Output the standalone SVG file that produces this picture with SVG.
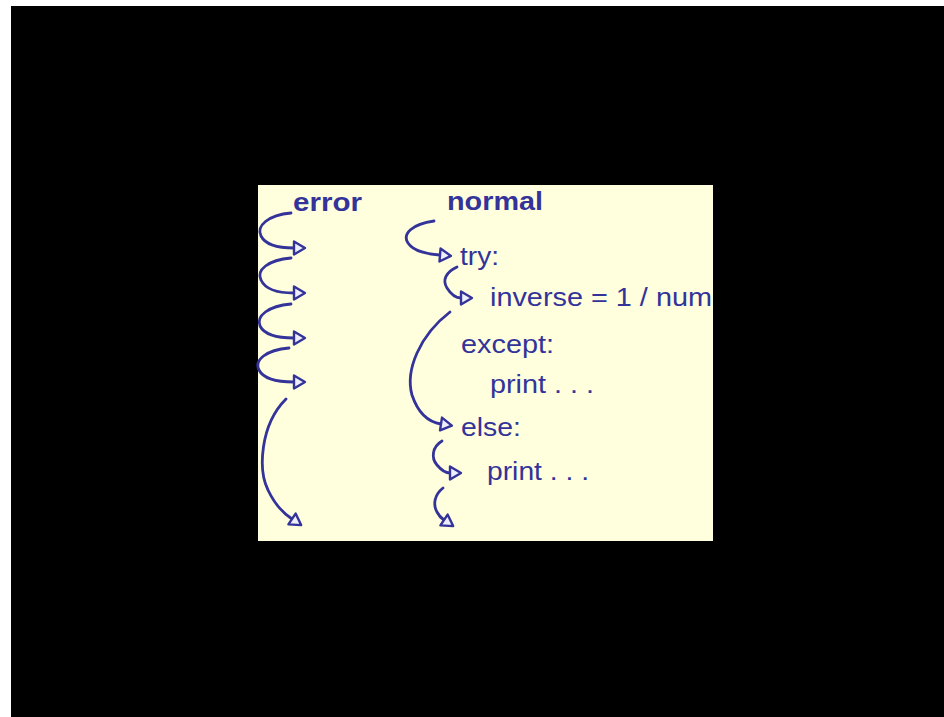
<svg xmlns="http://www.w3.org/2000/svg" width="944" height="717" viewBox="0 0 944 717">
  <style>
    .lbl { font-family: "Liberation Sans", Arial, sans-serif; font-size: 25px; fill: #33339a; }
    .head { font-weight: bold; }
    .flow { fill: none; stroke: #33339a; stroke-width: 2.8; stroke-linecap: round; marker-end: url(#tri); }
  </style>
  <defs>
    <marker id="tri" markerUnits="userSpaceOnUse" viewBox="0 0 15 17" markerWidth="15" markerHeight="17" refX="2" refY="8.5" orient="auto">
      <path d="M2,2 L13,8.5 L2,15 Z" fill="#eeeefc" stroke="#33339a" stroke-width="2.4" stroke-linejoin="round"/>
    </marker>
  </defs>

  <!-- page -->
  <rect x="0" y="0" width="944" height="717" fill="#ffffff"/>
  <rect x="11" y="6" width="933" height="711" fill="#000000"/>
  <rect x="258" y="185" width="455" height="356" fill="#ffffdd"/>

  <!-- column headings -->
  <g id="error-head"><text class="lbl head" x="293" y="211" textLength="69" lengthAdjust="spacingAndGlyphs">error</text></g>
  <g id="normal-head"><text class="lbl head" x="447" y="210" textLength="96" lengthAdjust="spacingAndGlyphs">normal</text></g>

  <!-- code lines -->
  <g id="try"><text class="lbl" x="460" y="265" textLength="39" lengthAdjust="spacingAndGlyphs">try:</text></g>
  <g id="inverse"><text class="lbl" x="490" y="306" textLength="222" lengthAdjust="spacingAndGlyphs">inverse = 1 / num</text></g>
  <g id="except"><text class="lbl" x="461" y="353" textLength="93" lengthAdjust="spacingAndGlyphs">except:</text></g>
  <g id="print1"><text class="lbl" x="490" y="393" textLength="104" lengthAdjust="spacingAndGlyphs">print . . .</text></g>
  <g id="else"><text class="lbl" x="461" y="436" textLength="60" lengthAdjust="spacingAndGlyphs">else:</text></g>
  <g id="print2"><text class="lbl" x="487" y="480" textLength="102" lengthAdjust="spacingAndGlyphs">print . . .</text></g>

  <!-- flow arrows -->
  <g id="connectors">
    <!-- error path -->
    <path class="flow" d="M291,213 C268,215 256,226 261,236 C266,246 280,248 294,248"/>
    <path class="flow" d="M291,258 C268,260 256,270 261,280 C266,291 280,293 294,293"/>
    <path class="flow" d="M291,304 C268,306 256,316 260,326 C265,336 280,338 294,338"/>
    <path class="flow" d="M289,348 C266,350 254,360 259,370 C264,380 280,382 294,382"/>
    <path class="flow" d="M286,399 C260,425 258,470 268,490 C275,505 283,513 292,519"/>
    <!-- normal path -->
    <path class="flow" d="M434,221 C412,224 402,234 408,243 C414,252 428,254 440,255"/>
    <path class="flow" d="M457,267 C446,272 442,280 447,288 C452,296 458,298 461,298"/>
    <path class="flow" d="M450,312 C420,335 405,370 412,395 C418,413 428,422 441,424"/>
    <path class="flow" d="M442,441 C432,447 431,458 437,465 C442,471 447,473 450,473"/>
    <path class="flow" d="M443,488 C434,495 433,505 437,512 C439,516 441,518 444,520"/>
  </g>
</svg>
